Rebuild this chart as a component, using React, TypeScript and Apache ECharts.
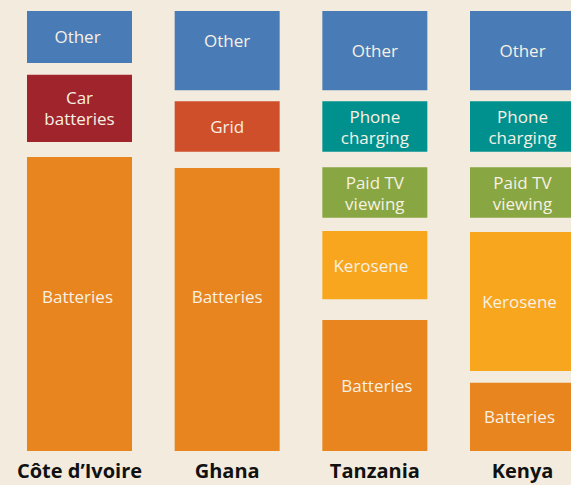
import React, { useEffect, useRef } from "react";
import * as echarts from "echarts";

const categories = ["Côte d’Ivoire", "Ghana", "Tanzania", "Kenya"];

// value ranges [low, high] per country (share of scale 0–100), null when absent
const batteriesRange = [[0, 66.8], [0, 64.3], [0, 29.8], [0, 15.5]];
const keroseneRange = [null, null, [34.5, 50.0], [18.2, 49.8]];
const paidTvRange = [null, null, [53.0, 64.5], [53.0, 64.5]];
const phoneRange = [null, null, [68.0, 79.5], [68.0, 79.5]];
const carBatteriesRange = [[70.2, 85.5], null, null, null];
const gridRange = [null, [68.0, 79.5], null, null];
const otherRange = [[88.2, 100], [82.0, 100], [82.0, 100], [82.0, 100]];

const uses = [
  { name: "Batteries", label: "Batteries", ranges: batteriesRange, color: "#E8851E" },
  { name: "Kerosene", label: "Kerosene", ranges: keroseneRange, color: "#F8A61E" },
  { name: "Paid TV viewing", label: "Paid TV\nviewing", ranges: paidTvRange, color: "#88A641" },
  { name: "Phone charging", label: "Phone\ncharging", ranges: phoneRange, color: "#00918F" },
  { name: "Car batteries", label: "Car\nbatteries", ranges: carBatteriesRange, color: "#A0242B" },
  { name: "Grid", label: "Grid", ranges: gridRange, color: "#CF4F2B" },
  { name: "Other", label: "Other", ranges: otherRange, color: "#497BB6" },
];

// label nudges (px) keyed "use|countryIndex": [dx, dy]
const labelNudge: Record<string, number[]> = {
  "Other|1": [0, -10],
  "Batteries|0": [-2, -8],
  "Batteries|1": [0, -13],
  "Kerosene|2": [-4, 0],
  "Batteries|2": [2, 0],
  "Kerosene|3": [-3, 0],
  "Batteries|3": [-3, 0],
  "Other|0": [-2, 0],
};

const BG = "#F3ECDE";
const FONT = "'Open Sans', Lato, sans-serif";

export default function App() {
  const ref = useRef<HTMLDivElement>(null);
  useEffect(() => {
    if (!ref.current) return;
    const chart = echarts.init(ref.current, null, { renderer: "svg" });
    const series = uses.map((u) => ({
      type: "custom",
      name: u.name,
      encode: { x: 0, y: [1, 2] },
      data: u.ranges
        .map((r, i) => (r ? [i, r[0], r[1]] : null))
        .filter((d) => d !== null),
      renderItem: (params: any, api: any) => {
        const ci = api.value(0);
        const lo = api.coord([ci, api.value(1)]);
        const hi = api.coord([ci, api.value(2)]);
        const w = 105;
        const x = lo[0] - w / 2;
        const y = hi[1];
        const h = lo[1] - hi[1];
        const nudge = labelNudge[u.name + "|" + ci] || [0, 0];
        return {
          type: "group",
          children: [
            {
              type: "rect",
              shape: { x, y, width: w, height: h },
              style: { fill: u.color },
            },
            {
              type: "text",
              x: lo[0] + nudge[0],
              y: y + h / 2 + nudge[1],
              style: {
                text: u.label,
                fill: "#F7F1E4",
                fontSize: 17,
                fontFamily: FONT,
                lineHeight: 21,
                align: "center",
                verticalAlign: "middle",
              },
            },
          ],
        };
      },
    }));
    chart.setOption({
      animation: false,
      backgroundColor: BG,
      grid: {
        left: 5.67,
        width: 590.67,
        top: 11,
        bottom: 34,
        containLabel: false,
        outerBoundsMode: "none",
      },
      xAxis: {
        type: "category",
        data: categories,
        axisLine: { show: false },
        axisTick: { show: false },
        axisLabel: {
          color: "#111",
          fontSize: 20,
          fontWeight: "bold",
          fontFamily: FONT,
          margin: 9,
          interval: 0,
        },
      },
      yAxis: {
        type: "value",
        min: 0,
        max: 100,
        show: false,
        splitLine: { show: false },
      },
      series,
    });
    return () => chart.dispose();
  }, []);
  return (
    <div
      ref={ref}
      style={{ position: "fixed", left: 0, top: 0, width: 571, height: 485, background: BG }}
    />
  );
}
